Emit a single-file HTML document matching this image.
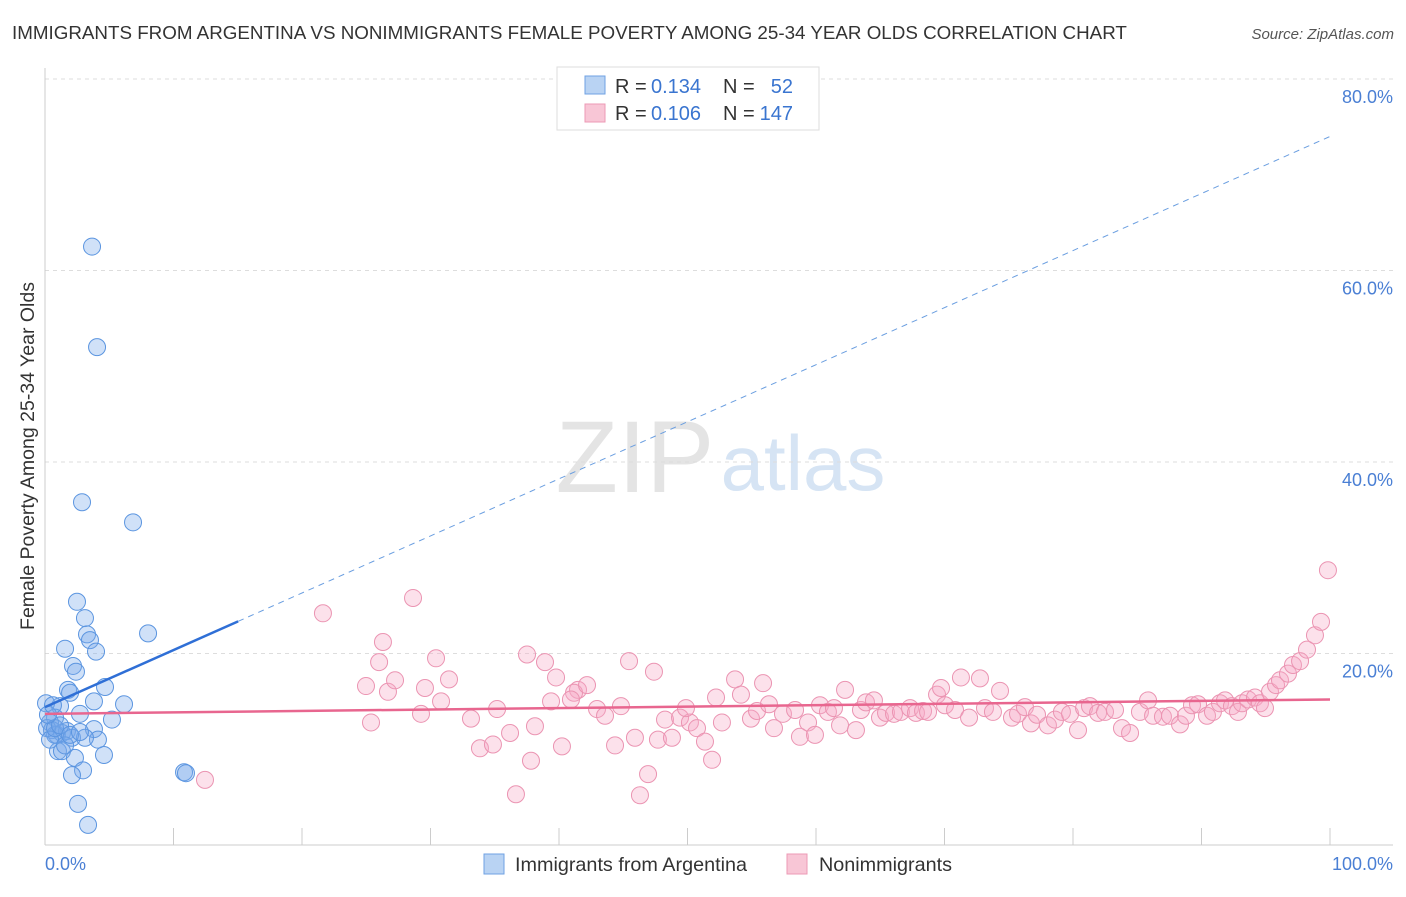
<!DOCTYPE html>
<html><head><meta charset="utf-8">
<style>
body{margin:0;background:#fff;font-family:"Liberation Sans",sans-serif;}
svg text{font-family:"Liberation Sans",sans-serif;}
</style></head>
<body>
<svg id="chart" width="1406" height="892" viewBox="0 0 1406 892" xmlns="http://www.w3.org/2000/svg">
<text x="12" y="39" font-size="18.8" fill="#333">IMMIGRANTS FROM ARGENTINA VS NONIMMIGRANTS FEMALE POVERTY AMONG 25-34 YEAR OLDS CORRELATION CHART</text>
<text x="1394" y="39" font-size="15" fill="#555" font-style="italic" text-anchor="end">Source: ZipAtlas.com</text>
<g>
<text x="635" y="492" font-size="102" fill="#e4e4e4" font-family="Liberation Serif,serif" text-anchor="middle">ZIP</text>
<text x="803" y="490" font-size="78" fill="#d6e4f4" text-anchor="middle">atlas</text>
</g>
<g id="grid"></g>
<g id="axes"></g>
<g id="marks"></g>
<text transform="translate(34,456) rotate(-90)" font-size="19.5" fill="#333" text-anchor="middle">Female Poverty Among 25-34 Year Olds</text>
<text x="45" y="870" font-size="18" fill="#4a7fd4">0.0%</text>
<text x="1393" y="870" font-size="18" fill="#4a7fd4" text-anchor="end">100.0%</text>
<g>
<rect x="557" y="67" width="262" height="63" fill="#fff" stroke="#ddd"/>
<rect x="585" y="76" width="20" height="18" fill="#b9d3f3" stroke="#6fa2e3"/>
<text x="615" y="93" font-size="20" fill="#333">R =</text>
<text x="651" y="93" font-size="20" fill="#3a75d0">0.134</text>
<text x="723" y="93" font-size="20" fill="#333">N =</text>
<text x="793" y="93" font-size="20" fill="#3a75d0" text-anchor="end">52</text>
<rect x="585" y="104" width="20" height="18" fill="#f8c6d6" stroke="#ec9ab5"/>
<text x="615" y="120" font-size="20" fill="#333">R =</text>
<text x="651" y="120" font-size="20" fill="#3a75d0">0.106</text>
<text x="723" y="120" font-size="20" fill="#333">N =</text>
<text x="793" y="120" font-size="20" fill="#3a75d0" text-anchor="end">147</text>
</g>
<g>
<rect x="484" y="854" width="20" height="20" fill="#b9d3f3" stroke="#6fa2e3"/>
<text x="515" y="871" font-size="19.8" fill="#333">Immigrants from Argentina</text>
<rect x="787" y="854" width="20" height="20" fill="#f8c6d6" stroke="#ec9ab5"/>
<text x="819" y="871" font-size="19.8" fill="#333">Nonimmigrants</text>
</g>
</svg>
<script>
const blueX=[3.66,4.05,2.88,6.85,2.49,3.11,8.02,3.27,3.5,3.97,1.56,2.18,2.41,1.79,1.95,4.67,3.81,6.15,2.72,1.17,5.21,0.78,0.39,0.54,0.93,1.32,1.71,2.1,3.81,4.12,1.01,1.32,3.11,0.78,0.16,2.33,4.59,2.96,2.1,10.82,10.97,2.57,3.35,0.08,0.39,1.56,0.78,1.17,1.95,2.72,0.23,0.62];
const blueY=[62.5,52.0,35.8,33.7,25.4,23.7,22.1,22.0,21.4,20.2,20.5,18.7,18.1,16.2,15.9,16.5,15.0,14.7,13.7,14.5,13.1,13.3,12.8,12.0,11.5,11.7,11.9,11.2,12.1,11.0,9.8,9.8,11.2,11.5,12.2,9.1,9.4,7.8,7.3,7.6,7.5,4.3,2.1,14.8,11.0,10.4,12.2,12.5,11.5,11.8,13.6,14.6];
const pinkX=[21.63,28.64,26.3,26.0,30.43,24.98,26.69,27.24,31.44,29.57,25.37,29.26,30.82,33.15,35.18,33.85,34.86,36.19,37.51,38.91,39.77,39.38,38.13,37.82,36.65,40.23,41.48,41.17,42.18,40.93,42.96,43.58,45.45,44.82,44.36,45.91,46.3,46.93,47.39,47.7,48.25,48.79,49.42,50.19,50.74,51.36,51.91,49.88,52.22,52.68,53.7,54.16,54.94,55.41,55.88,56.34,56.73,57.43,58.37,58.75,59.38,59.92,60.31,60.93,61.4,62.26,61.87,63.11,63.5,63.89,64.51,64.98,65.45,66.07,66.61,67.32,67.78,68.33,68.72,69.42,69.73,70.04,70.82,71.28,71.91,72.76,73.15,73.77,74.32,75.25,75.72,76.26,76.73,77.2,78.05,78.6,79.14,79.77,80.39,80.86,81.32,81.95,82.49,83.27,83.81,84.44,85.21,85.84,86.23,87.0,87.55,88.33,88.79,89.26,89.73,90.43,90.89,91.44,91.83,92.37,92.84,93.15,93.62,94.16,94.55,94.94,95.33,95.8,96.11,96.73,97.12,97.67,98.21,98.83,99.3,99.84,12.45];
const pinkY=[24.2,25.8,21.2,19.1,19.5,16.6,16.0,17.2,17.3,16.4,12.8,13.7,15.0,13.2,14.2,10.1,10.5,11.7,19.9,19.1,17.5,15.0,12.4,8.8,5.3,10.3,16.2,15.9,16.7,15.2,14.2,13.5,19.2,14.5,10.4,11.2,5.2,7.4,18.1,11.0,13.1,11.2,13.3,12.8,12.2,10.8,8.9,14.3,15.4,12.8,17.3,15.7,13.2,14.0,16.9,14.7,12.2,13.7,14.1,11.3,12.8,11.5,14.6,13.9,14.3,16.2,12.5,12.0,14.1,14.9,15.1,13.3,13.8,13.7,13.9,14.3,13.8,14.0,13.9,15.7,16.4,14.6,14.1,17.5,13.3,17.4,14.3,13.9,16.1,13.3,13.7,14.4,12.7,13.6,12.5,13.1,13.9,13.7,12.0,14.3,14.5,13.8,13.9,14.1,12.2,11.7,13.9,15.1,13.5,13.4,13.5,12.6,13.5,14.6,14.7,13.5,13.9,14.8,15.1,14.5,13.9,14.8,15.2,15.4,14.8,14.3,16.0,16.7,17.2,17.9,18.8,19.2,20.4,21.9,23.3,28.7,6.8];
const yTicks=[20,40,60,80];
const yTickLabels=["20.0%","40.0%","60.0%","80.0%"];
const xTicks=[0,10,20,30,40,50,60,70,80,90,100];
const blueTrend=[14.4,74.0];
const blueSolidEnd=15.03;
const pinkTrend=[13.7,15.2];

const NS="http://www.w3.org/2000/svg";
const X=v=>45+v*12.85;
const Y=v=>845-v*9.575;
function mk(tag,attrs,parent){const e=document.createElementNS(NS,tag);for(const k in attrs)e.setAttribute(k,attrs[k]);document.getElementById(parent).appendChild(e);return e;}

yTicks.forEach((t,i)=>{
  const g=mk('line',{x1:45,x2:1393,y1:Y(t),y2:Y(t),stroke:'#ddd','stroke-dasharray':'4,4'},'grid');
  
  
  const l=mk('text',{x:1393,y:Y(t)+24,'font-size':18,fill:'#4a7fd4','text-anchor':'end'},'grid');
  l.textContent=yTickLabels[i];
  
  
});
const ax=mk('line',{x1:45,x2:45,y1:68,y2:845,stroke:'#ccc'},'axes');


const bx=mk('line',{x1:45,x2:1393,y1:845,y2:845,stroke:'#ccc'},'axes');


xTicks.forEach(t=>{
  const tk=mk('line',{x1:X(t),x2:X(t),y1:828,y2:845,stroke:'#ccc'},'axes');
  
  
});
blueX.forEach((x,i)=>{
  const c=mk('circle',{cx:X(x),cy:Y(blueY[i]),r:8.5,fill:'rgba(120,170,235,0.35)',stroke:'#5b95e0','stroke-width':1},'marks');
  
  
});
pinkX.forEach((x,i)=>{
  const c=mk('circle',{cx:X(x),cy:Y(pinkY[i]),r:8.5,fill:'rgba(246,170,198,0.35)',stroke:'#eb94b2','stroke-width':1},'marks');
  
  
});
const bt=v=>blueTrend[0]+(blueTrend[1]-blueTrend[0])*v/100;
const bs=mk('line',{x1:X(0),y1:Y(bt(0)),x2:X(blueSolidEnd),y2:Y(bt(blueSolidEnd)),stroke:'#2f6fd6','stroke-width':2.5},'marks');


const bd=mk('line',{x1:X(blueSolidEnd),y1:Y(bt(blueSolidEnd)),x2:X(100),y2:Y(bt(100)),stroke:'#6a9ee0','stroke-width':1,'stroke-dasharray':'6,5'},'marks');


const pt=mk('line',{x1:X(0),y1:Y(pinkTrend[0]),x2:X(100),y2:Y(pinkTrend[1]),stroke:'#e8668f','stroke-width':2.5},'marks');


</script>
</body></html>
